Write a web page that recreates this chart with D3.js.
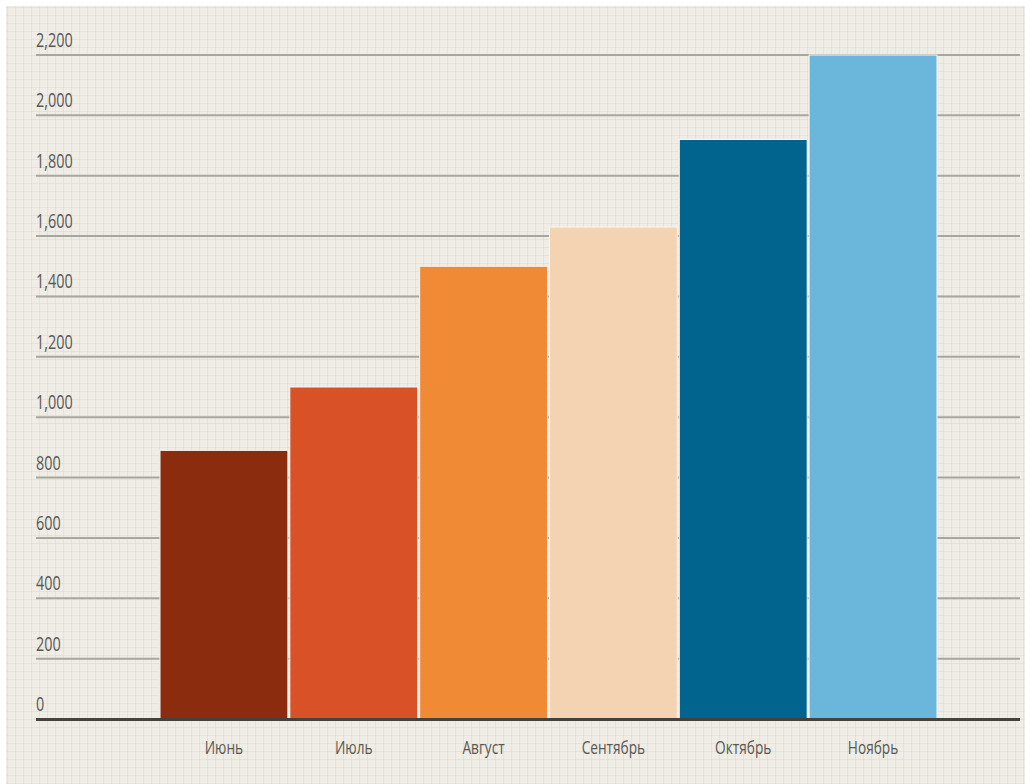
<!DOCTYPE html>
<html><head><meta charset="utf-8">
<script src="https://cdn.jsdelivr.net/npm/d3@7/dist/d3.min.js"></script>
<style>
html,body{margin:0;padding:0;background:#fff;}
svg{display:block;}
text{font-family:"Open Sans","Liberation Sans",sans-serif;}
</style></head>
<body>
<script>
const categories = ["Июнь","Июль","Август","Сентябрь","Октябрь","Ноябрь"];
const values = [890, 1100, 1500, 1630, 1920, 2200];
const colors = ["#8c2c0f","#d95126","#f08a35","#f3d3b1","#00648f","#6bb6db"];
const yTicks = [0,200,400,600,800,1000,1200,1400,1600,1800,2000,2200];

const W = 1025, H = 784;
const SX = 0.72;
const svg = d3.select("body").append("svg").attr("width",W).attr("height",H);

const defs = svg.append("defs");
const pat = defs.append("pattern").attr("id","grid").attr("width",8).attr("height",8)
  .attr("patternUnits","userSpaceOnUse");
pat.append("rect").attr("width",8).attr("height",8).attr("fill","#efede6");
pat.append("path").attr("d","M8 0 V8 M0 8 H8").attr("stroke","#dcd8cd").attr("stroke-width",1).attr("fill","none");

svg.append("rect").attr("x",6).attr("y",6).attr("width",W-6).attr("height",H-6).attr("fill","url(#grid)");

const y = d3.scaleLinear().domain([0,2200]).range([719,55]);
const x = d3.scaleBand().domain(categories).range([160,937]).paddingInner(0.015).paddingOuter(0);

// gridlines
svg.append("g").selectAll("line").data(yTicks.filter(d=>d>0)).join("line")
  .attr("x1",36).attr("x2",1020).attr("y1",d=>y(d)).attr("y2",d=>y(d))
  .attr("stroke","#a9a69e").attr("stroke-width",2);

// y labels
svg.append("g").selectAll("text").data(yTicks).join("text")
  .attr("transform",d=>`translate(36,${y(d)-8}) scale(${SX},1)`)
  .attr("font-size",20).attr("fill","#5a5853")
  .text(d=>d3.format(",")(d));

// bars
svg.append("g").selectAll("rect").data(categories).join("rect")
  .attr("x",d=>x(d)).attr("width",x.bandwidth())
  .attr("y",(d,i)=>y(values[i])).attr("height",(d,i)=>y(0)-y(values[i]))
  .attr("fill",(d,i)=>colors[i])
  .attr("stroke","#f7f6f2").attr("stroke-width",1);

// x axis line
svg.append("line").attr("x1",36).attr("x2",1020).attr("y1",719.5).attr("y2",719.5)
  .attr("stroke","#45423d").attr("stroke-width",3);

// x labels
svg.append("g").selectAll("text").data(categories).join("text")
  .attr("transform",d=>`translate(${x(d)+x.bandwidth()/2},754) scale(${SX},1)`)
  .attr("text-anchor","middle").attr("font-size",19).attr("fill","#5a5853")
  .text(d=>d);
</script>
</body></html>
